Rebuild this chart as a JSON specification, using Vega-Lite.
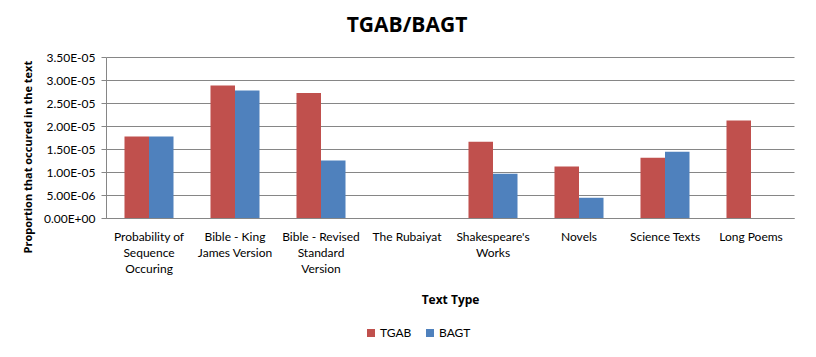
{
  "$schema": "https://vega.github.io/schema/vega-lite/v6.json",
  "autosize": "none",
  "width": 688,
  "height": 161,
  "padding": {"left": 106, "top": 57, "right": 22, "bottom": 139},
  "background": "white",
  "title": {
    "text": "TGAB/BAGT",
    "font": "Open Sans",
    "fontSize": 21,
    "fontWeight": "bold",
    "color": "#000000",
    "anchor": "middle",
    "frame": "group",
    "baseline": "bottom",
    "offset": -6,
    "dx": -43
  },
  "data": {
    "values": [
      {"type": "Probability of Sequence Occuring", "series": "TGAB", "value": 1.77e-5},
      {"type": "Probability of Sequence Occuring", "series": "BAGT", "value": 1.77e-5},
      {"type": "Bible - King James Version", "series": "TGAB", "value": 2.88e-5},
      {"type": "Bible - King James Version", "series": "BAGT", "value": 2.77e-5},
      {"type": "Bible - Revised Standard Version", "series": "TGAB", "value": 2.72e-5},
      {"type": "Bible - Revised Standard Version", "series": "BAGT", "value": 1.25e-5},
      {"type": "Shakespeare's Works", "series": "TGAB", "value": 1.66e-5},
      {"type": "Shakespeare's Works", "series": "BAGT", "value": 9.6e-6},
      {"type": "Novels", "series": "TGAB", "value": 1.12e-5},
      {"type": "Novels", "series": "BAGT", "value": 4.4e-6},
      {"type": "Science Texts", "series": "TGAB", "value": 1.31e-5},
      {"type": "Science Texts", "series": "BAGT", "value": 1.44e-5},
      {"type": "Long Poems", "series": "TGAB", "value": 2.12e-5}
    ]
  },
  "mark": {"type": "bar"},
  "encoding": {
    "x": {
      "field": "type",
      "type": "nominal",
      "sort": null,
      "scale": {
        "domain": ["Probability of Sequence Occuring", "Bible - King James Version", "Bible - Revised Standard Version", "The Rubaiyat", "Shakespeare's Works", "Novels", "Science Texts", "Long Poems"],
        "paddingInner": 0.43,
        "paddingOuter": 0.215
      },
      "axis": {
        "title": "Text Type",
        "titleFont": "Open Sans",
        "titleFontSize": 12,
        "titleFontWeight": "bold",
        "titleColor": "#000000",
        "titleBaseline": "alphabetic",
        "titleY": 85,
        "labelAngle": 0,
        "labelFont": "Lato",
        "labelFontSize": 12,
        "labelColor": "#000000",
        "labelLineHeight": 16,
        "labelPadding": 13,
        "labelLimit": 200,
        "ticks": false,
        "domainColor": "#868686",
        "labelExpr": "datum.label == 'Probability of Sequence Occuring' ? ['Probability of','Sequence','Occuring'] : datum.label == 'Bible - King James Version' ? ['Bible - King','James Version'] : datum.label == 'Bible - Revised Standard Version' ? ['Bible - Revised','Standard','Version'] : datum.label == \"Shakespeare's Works\" ? [\"Shakespeare's\",'Works'] : datum.label"
      }
    },
    "xOffset": {
      "field": "series",
      "type": "nominal",
      "scale": {"domain": ["TGAB", "BAGT"], "paddingInner": 0, "paddingOuter": 0}
    },
    "y": {
      "field": "value",
      "type": "quantitative",
      "scale": {"domain": [0, 3.5e-5], "nice": false, "zero": true},
      "axis": {
        "title": "Proportion that occured in the text",
        "titleFont": "Open Sans",
        "titleFontSize": 11,
        "titleFontWeight": "bold",
        "titleColor": "#000000",
        "titleAngle": -90,
        "titleAnchor": "start",
        "titleAlign": "left",
        "titleBaseline": "middle",
        "titleX": -78,
        "titleY": 196,
        "values": [0, 5e-6, 1e-5, 1.5e-5, 2e-5, 2.5e-5, 3e-5, 3.5e-5],
        "labelExpr": "split(format(datum.value, '.2e'), 'e')[0] + 'E' + (toNumber(split(format(datum.value, '.2e'), 'e')[1]) < 0 ? '-' : '+') + (abs(toNumber(split(format(datum.value, '.2e'), 'e')[1])) < 10 ? '0' : '') + abs(toNumber(split(format(datum.value, '.2e'), 'e')[1]))",
        "labelFont": "Lato",
        "labelFontSize": 12,
        "labelColor": "#000000",
        "labelPadding": 6,
        "tickSize": 5,
        "tickColor": "#868686",
        "domainColor": "#868686",
        "grid": true,
        "gridColor": "#868686",
        "gridOpacity": 1
      }
    },
    "color": {
      "field": "series",
      "type": "nominal",
      "scale": {"domain": ["TGAB", "BAGT"], "range": ["#C0504D", "#4F81BD"]},
      "legend": {
        "title": null,
        "orient": "none",
        "direction": "horizontal",
        "legendX": 259,
        "legendY": 270,
        "symbolType": "square",
        "symbolSize": 64,
        "symbolStrokeWidth": 0,
        "labelFont": "Lato",
        "labelFontSize": 12,
        "labelColor": "#000000",
        "columnPadding": 12,
        "labelOffset": 3
      }
    }
  },
  "config": {
    "view": {"stroke": null}
  }
}
